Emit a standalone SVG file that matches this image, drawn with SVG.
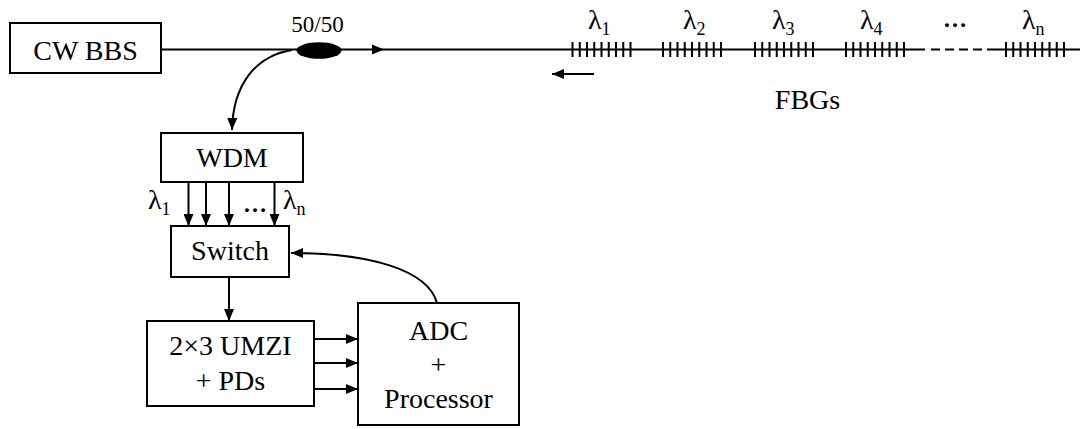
<svg xmlns="http://www.w3.org/2000/svg" width="1085" height="429" viewBox="0 0 1085 429">
<defs>
<style>
text{font-family:"Liberation Serif","Times New Roman",Tinos,"Noto Serif","DejaVu Serif",FreeSerif,Times,serif}
.box{fill:#fff;stroke:#000;stroke-width:2}
.ln{fill:none;stroke:#000;stroke-width:2}
.t{font-size:28px;fill:#000}
.c{text-anchor:middle}
.sub{font-size:18px}
.dots{font-size:24px;font-weight:bold;fill:#000}
.fbg{fill:none;stroke:#000;stroke-width:2}
</style>
<marker id="ah" markerWidth="12" markerHeight="10" refX="12" refY="5" orient="auto" markerUnits="userSpaceOnUse">
<path d="M0,0 L12,5 L0,10 Z" fill="#000"/>
</marker>
</defs>
<rect width="1085" height="429" fill="#fff"/>

<g id="connectors">
<path class="ln" d="M161,49.5 H925"/>
<path class="ln" d="M931,49.5 H982" stroke-dasharray="9 5"/>
<path class="ln" d="M987,49.5 H1080"/>
<path d="M372,44.5 L384,49.5 L372,54.5 Z" fill="#000"/>
<path class="ln" d="M594,74 H552" marker-end="url(#ah)"/>
<path class="ln" d="M292,50 C255,56 233,85 232,130" marker-end="url(#ah)"/>
<path class="ln" d="M188.5,182 V226" marker-end="url(#ah)"/>
<path class="ln" d="M206,182 V226" marker-end="url(#ah)"/>
<path class="ln" d="M229,182 V226" marker-end="url(#ah)"/>
<path class="ln" d="M274.5,182 V226" marker-end="url(#ah)"/>
<path class="ln" d="M229,277 V321" marker-end="url(#ah)"/>
<path class="ln" d="M314,339 H358" marker-end="url(#ah)"/>
<path class="ln" d="M314,363 H358" marker-end="url(#ah)"/>
<path class="ln" d="M314,389 H358" marker-end="url(#ah)"/>
<path class="ln" d="M437,303 C428,270 370,253 291,253" marker-end="url(#ah)"/>
</g>

<g id="cwbbs">
<rect class="box" x="10" y="23" width="151" height="50"/>
<text class="t c" x="85.5" y="60">CW BBS</text>
</g>

<g id="coupler">
<ellipse cx="319" cy="50.5" rx="22.5" ry="8.3" fill="#000"/>
<text class="t c" x="317.5" y="32" style="font-size:23px">50/50</text>
</g>

<g id="fbgs">
<path class="fbg" d="M572.5,42V57M579.75,42V57M587,42V57M594.25,42V57M601.5,42V57M608.75,42V57M616,42V57M623.25,42V57M630.5,42V57"/>
<path class="fbg" d="M663,42V57M670.25,42V57M677.5,42V57M684.75,42V57M692,42V57M699.25,42V57M706.5,42V57M713.75,42V57M721,42V57"/>
<path class="fbg" d="M755,42V57M762.25,42V57M769.5,42V57M776.75,42V57M784,42V57M791.25,42V57M798.5,42V57M805.75,42V57M813,42V57"/>
<path class="fbg" d="M846,42V57M853.25,42V57M860.5,42V57M867.75,42V57M875,42V57M882.25,42V57M889.5,42V57M896.75,42V57M904,42V57"/>
<path class="fbg" d="M1006,42V57M1013.25,42V57M1020.5,42V57M1027.75,42V57M1035,42V57M1042.25,42V57M1049.5,42V57M1056.75,42V57M1064,42V57"/>
<text class="t" x="588" y="29">λ<tspan class="sub" dy="6">1</tspan></text>
<text class="t" x="683" y="29">λ<tspan class="sub" dy="6">2</tspan></text>
<text class="t" x="772" y="29">λ<tspan class="sub" dy="6">3</tspan></text>
<text class="t" x="860" y="29">λ<tspan class="sub" dy="6">4</tspan></text>
<text class="dots" x="943" y="27">…</text>
<text class="t" x="1022" y="29">λ<tspan class="sub" dy="6">n</tspan></text>
<text class="t c" x="807.5" y="109">FBGs</text>
</g>

<g id="wdm">
<rect class="box" x="161" y="133" width="142" height="49"/>
<text class="t c" x="232" y="167">WDM</text>
<text class="t" x="148" y="209">λ<tspan class="sub" dy="6">1</tspan></text>
<text class="dots" x="243" y="212">…</text>
<text class="t" x="283" y="209">λ<tspan class="sub" dy="6">n</tspan></text>
</g>

<g id="switch">
<rect class="box" x="171" y="226" width="118" height="51"/>
<text class="t c" x="230" y="260">Switch</text>
</g>

<g id="umzi">
<rect class="box" x="147" y="321" width="167" height="85"/>
<text class="t c" x="230.5" y="355">2×3 UMZI</text>
<text class="t c" x="230.5" y="390">+ PDs</text>
</g>

<g id="adc">
<rect class="box" x="358" y="303" width="161" height="122"/>
<text class="t c" x="438.5" y="340">ADC</text>
<text class="t c" x="438.5" y="374">+</text>
<text class="t c" x="438.5" y="408">Processor</text>
</g>
</svg>
